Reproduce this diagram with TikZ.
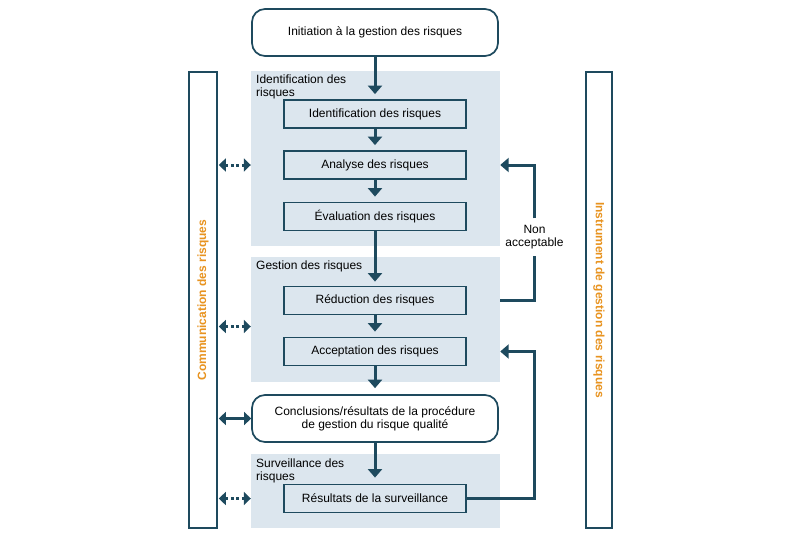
\documentclass[tikz,border=0pt]{standalone}
\usepackage{fontspec}
\setmainfont{Liberation Sans}
\usetikzlibrary{arrows.meta}
\definecolor{dk}{HTML}{1E4A5E}
\definecolor{pan}{HTML}{DCE6EE}
\definecolor{org}{HTML}{E8931F}
\begin{document}
\begin{tikzpicture}[x=1pt,y=-1pt,
  every node/.style={font=\fontsize{12}{13}\selectfont, text=black},
  panel/.style={fill=pan, draw=none, minimum width=249pt, inner sep=0pt},
  panellabel/.style={anchor=north west, align=left, inner sep=0pt},
  stepbox/.style={draw=dk, line width=1.8pt, fill=pan, minimum width=182pt, minimum height=28pt, inner sep=0pt},
  roundbox/.style={draw=dk, line width=1.7pt, fill=white, rounded corners=13pt, minimum width=246pt, minimum height=47pt, align=center, inner sep=0pt},
  bar/.style={draw=dk, line width=1.6pt, fill=white, minimum height=456pt, inner sep=0pt},
  bartext/.style={text=org, font=\fontsize{12}{13}\selectfont\bfseries},
  flow/.style={draw=dk, line width=3pt, -{Triangle[length=8.5pt,width=14pt]}},
  fbline/.style={draw=dk, line width=3pt},
  both/.style={draw=dk, line width=3pt, {Triangle[length=7pt,width=13pt]}-{Triangle[length=7pt,width=13pt]}},
  dotline/.style={dash pattern=on 3pt off 2.5pt},
]
\useasboundingbox (0,0) rectangle (802,536);

% side bars
\node[bar, minimum width=28pt] (lbar) at (203,300) {};
\node[bar, minimum width=26pt] (rbar) at (599,300) {};
\node[bartext, rotate=90] (ltext) at (lbar) {Communication des risques};
\node[bartext, rotate=-90] (rtext) at (rbar) {Instrument de gestion des risques};

% panels
\node[panel, minimum height=175pt] (p1) at (375.5,158.5) {};
\node[panel, minimum height=125pt] (p2) at (375.5,319.5) {};
\node[panel, minimum height=74pt]  (p3) at (375.5,491) {};
\node[panellabel] (l1) at (256,74.5) {Identification des\\risques};
\node[panellabel] (l2) at (256,260.5) {Gestion des risques};
\node[panellabel] (l3) at (256,458.5) {Surveillance des\\risques};

% boxes
\node[roundbox] (init) at (375,32.5) {Initiation à la gestion des risques};
\node[stepbox] (ident) at (375,114) {Identification des risques};
\node[stepbox] (ana) at (375,165) {Analyse des risques};
\node[stepbox] (eval) at (375,216.5) {Évaluation des risques};
\node[stepbox] (red) at (375,300.5) {Réduction des risques};
\node[stepbox] (acc) at (375,351.5) {Acceptation des risques};
\node[roundbox] (concl) at (375,418.5) {Conclusions/résultats de la procédure\\de gestion du risque qualité};
\node[stepbox] (res) at (375,498.5) {Résultats de la surveillance};

% main flow
\draw[flow, shorten >=5pt] (init) -- (ident);
\draw[flow, shorten >=5pt] (ident) -- (ana);
\draw[flow, shorten >=5pt] (ana) -- (eval);
\draw[flow, shorten >=4pt] (eval) -- (red);
\draw[flow, shorten >=5pt] (red) -- (acc);
\draw[flow, shorten >=6pt] (acc) -- (concl);
\draw[flow, shorten >=6pt] (concl) -- (res);

% feedback loops
\node[align=center, inner xsep=2pt, inner ysep=6.5pt] (na) at (534.5,237) {Non\\acceptable};
\coordinate (c2) at (534.5,0);
\draw[fbline] (p2.east |- red.east) -| (na.south);
\draw[flow] (na.north) |- (p1.east |- ana.east);
\draw[flow] (res.east) -- (res.east -| c2) |- (p2.east |- acc.east);

% communication arrows
\coordinate (m2) at (375,326.5);
\draw[both, dotline, shorten <=1pt] (lbar.east |- ana.west) -- (p1.west |- ana.west);
\draw[both, dotline, shorten <=1pt] (lbar.east |- m2) -- (p2.west |- m2);
\draw[both, shorten <=1pt] (lbar.east |- concl.west) -- (concl.west);
\draw[both, dotline, shorten <=1pt] (lbar.east |- res.west) -- (p3.west |- res.west);
\end{tikzpicture}
\end{document}
